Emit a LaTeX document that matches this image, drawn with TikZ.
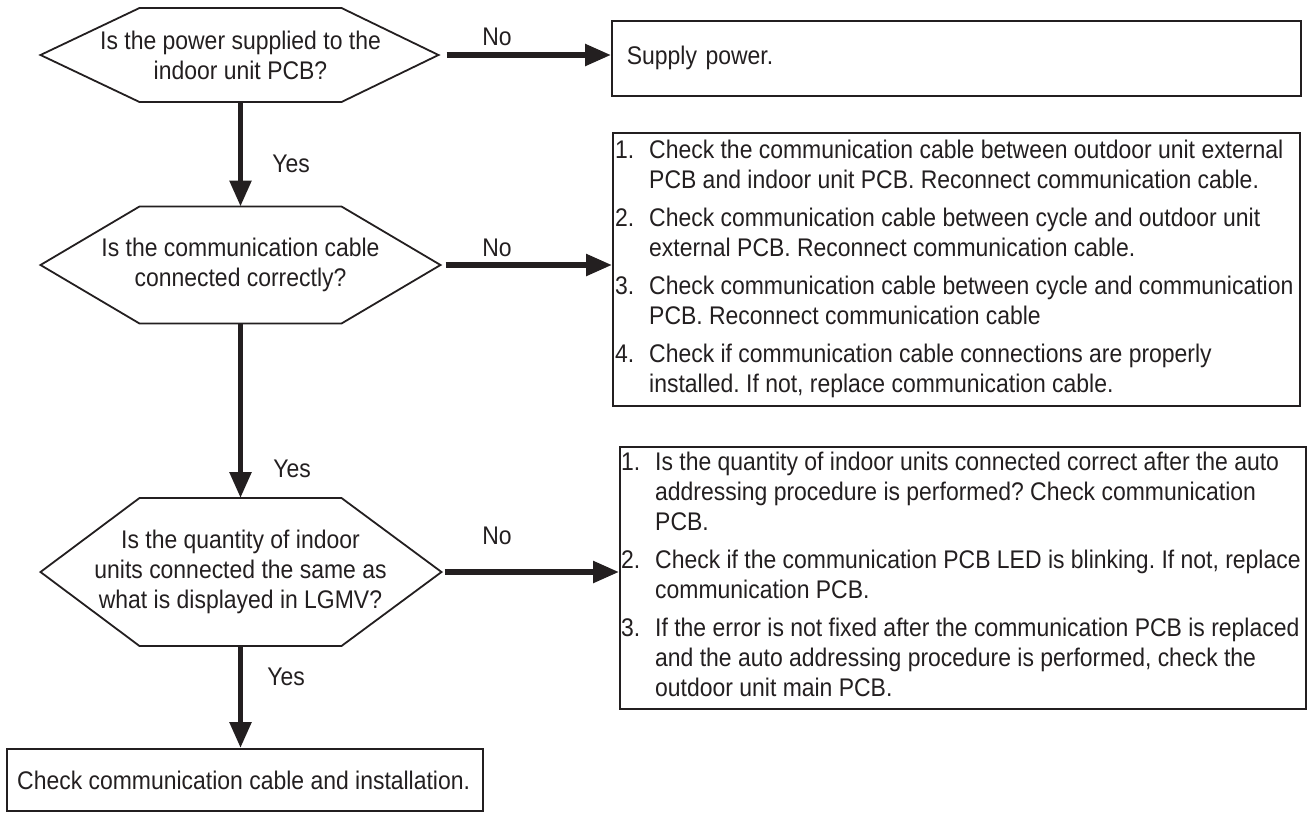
\documentclass[tikz,border=0pt]{standalone}
\usepackage{fontspec}
\setmainfont{Liberation Sans}[FakeStretch=0.9]
\usetikzlibrary{arrows.meta,calc}
\definecolor{ink}{HTML}{231F20}
\frenchspacing
\begin{document}
\begin{tikzpicture}[x=1pt,y=-1pt,
  every node/.style={font=\fontsize{25.5}{30}\selectfont\frenchspacing, text=ink},
  dec/.style={inner sep=0pt, align=center},
  hexline/.style={draw=ink, line width=1.8pt, line join=miter},
  boxst/.style={draw=ink, line width=1.8pt, inner sep=0pt},
  arr/.style={draw=ink, line width=5.5pt, -{Triangle[length=26pt,width=21pt]}},
  lbl/.style={inner sep=0pt}]
\useasboundingbox (0,0) rectangle (1307,812);

% decision 1
\node[dec] (h1) at (240.5,55) {Is the power supplied to the\\indoor unit PCB?};
\coordinate (h1t) at ($(h1)+(0,-47)$);
\coordinate (h1b) at ($(h1)+(0,47)$);
\coordinate (h1r) at ($(h1)+(198,0)$);
\draw[hexline] ($(h1)+(-101,-47)$) -- ($(h1)+(101,-47)$) -- (h1r) -- ($(h1)+(101,47)$)
  -- ($(h1)+(-101,47)$) -- ($(h1)+(-200,0)$) -- cycle;

% decision 2
\node[dec] (h2) at (240.5,265) {Is the communication cable\\connected correctly?};
\coordinate (h2t) at ($(h2)+(0,-58.5)$);
\coordinate (h2b) at ($(h2)+(0,58.5)$);
\coordinate (h2r) at ($(h2)+(200,0)$);
\draw[hexline] ($(h2)+(-101,-58.5)$) -- ($(h2)+(101,-58.5)$) -- (h2r) -- ($(h2)+(101,58.5)$)
  -- ($(h2)+(-101,58.5)$) -- ($(h2)+(-200,0)$) -- cycle;

% decision 3
\node[dec] (h3) at (240.5,572) {Is the quantity of indoor\\units connected the same as\\what is displayed in LGMV?};
\coordinate (h3t) at ($(h3)+(0,-74)$);
\coordinate (h3b) at ($(h3)+(0,74)$);
\coordinate (h3r) at ($(h3)+(201,0)$);
\draw[hexline] ($(h3)+(-101,-74)$) -- ($(h3)+(101,-74)$) -- (h3r) -- ($(h3)+(101,74)$)
  -- ($(h3)+(-101,74)$) -- ($(h3)+(-200,0)$) -- cycle;

% action boxes
\node[boxst, anchor=north west, minimum height=75pt, text width=659pt, inner xsep=15pt, align=left] (sp) at (611,20) {Supply power.};

\node[boxst, anchor=north west, minimum width=687pt, minimum height=273pt] (b2) at (612,132) {};
\node[anchor=west, inner sep=0pt] (b2t) at ([xshift=3pt]b2.west) {%
\begin{tabular}{@{}p{34pt}@{}l@{}}
1. & Check the communication cable between outdoor unit external\\
   & PCB and indoor unit PCB. Reconnect communication cable.\\[8pt]
2. & Check communication cable between cycle and outdoor unit\\
   & external PCB. Reconnect communication cable.\\[8pt]
3. & Check communication cable between cycle and communication\\
   & PCB. Reconnect communication cable\\[8pt]
4. & Check if communication cable connections are properly\\
   & installed. If not, replace communication cable.
\end{tabular}};

\node[boxst, anchor=north west, minimum width=686pt, minimum height=262pt] (b3) at (619,446) {};
\node[anchor=west, inner sep=0pt] (b3t) at ([xshift=2pt]b3.west) {%
\begin{tabular}{@{}p{34pt}@{}l@{}}
1. & Is the quantity of indoor units connected correct after the auto\\
   & addressing procedure is performed? Check communication\\
   & PCB.\\[8pt]
2. & Check if the communication PCB LED is blinking. If not, replace\\
   & communication PCB.\\[8pt]
3. & If the error is not fixed after the communication PCB is replaced\\
   & and the auto addressing procedure is performed, check the\\
   & outdoor unit main PCB.
\end{tabular}};

\node[boxst, anchor=north west, minimum width=476pt, minimum height=62pt] (fb) at (6,748) {};
\node[anchor=west, inner sep=0pt] (fbt) at ([xshift=11pt]fb.west) {Check communication cable and installation.};

% connectors
\draw[arr] (h1b) -- (h2t);
\draw[arr] (h2b) -- (h3t);
\draw[arr] (h3b) -- (h3b |- fb.north);
\coordinate (n1s) at ([xshift=8pt]h1r);
\coordinate (n2s) at ([xshift=5pt]h2r);
\coordinate (n3s) at ([xshift=3pt]h3r);
\draw[arr] (n1s) -- (n1s -| sp.west);
\draw[arr] (n2s) -- (n2s -| b2.west);
\draw[arr] (n3s) -- (n3s -| b3.west);

% labels
\node[lbl] (no1) at (497,37) {No};
\node[lbl] (no2) at (497,248) {No};
\node[lbl] (no3) at (497,536) {No};
\node[lbl] (yes1) at (291,164) {Yes};
\node[lbl] (yes2) at (292,469) {Yes};
\node[lbl] (yes3) at (286,677) {Yes};
\end{tikzpicture}
\end{document}
